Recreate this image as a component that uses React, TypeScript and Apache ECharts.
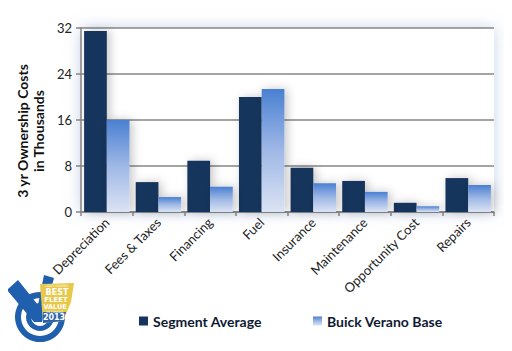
import React, { useEffect, useRef } from "react";
import * as echarts from "echarts";

const categories = ["Depreciation", "Fees & Taxes", "Financing", "Fuel", "Insurance", "Maintenance", "Opportunity Cost", "Repairs"];
const segmentAverage = [31.5, 5.2, 8.9, 20.0, 7.7, 5.4, 1.6, 5.9];
const buickVerano = [16.0, 2.6, 4.4, 21.4, 5.0, 3.5, 1.0, 4.7];
const seriesNames = ["Segment Average", "Buick Verano Base"];
const yTicks = { min: 0, max: 32, interval: 8 };

export default function App() {
  const ref = useRef<HTMLDivElement>(null);
  useEffect(() => {
    if (!ref.current) return;
    const chart = echarts.init(ref.current, null, { renderer: "svg" });
    const font = "Lato, 'Open Sans', sans-serif";
    const lightGrad = new echarts.graphic.LinearGradient(0, 0, 0, 1, [
      { offset: 0, color: "#4a80d2" },
      { offset: 0.5, color: "#9fb8e6" },
      { offset: 1, color: "#dbe3f4" },
    ]);
    const logoText = (text: string, x: number, y: number, size: number, bold: boolean) => ({
      type: "text",
      x,
      y,
      style: {
        text,
        fontSize: size,
        fontWeight: bold ? "bold" : "normal",
        fill: "#fff",
        align: "center",
        verticalAlign: "middle",
        fontFamily: "DejaVu Sans",
      },
    });
    chart.setOption({
      animation: false,
      backgroundColor: "#ffffff",
      grid: {
        left: 81,
        right: 18,
        top: 28,
        bottom: 139,
        show: true,
        backgroundColor: "#ffffff",
        borderWidth: 0,
        shadowColor: "rgba(150,175,215,0.55)",
        shadowBlur: 16,
      },
      legend: [
        {
          data: [seriesNames[0]],
          left: 134,
          top: 309,
          itemWidth: 9,
          itemHeight: 9,
          icon: "rect",
          textStyle: { fontFamily: font, fontWeight: "bold", fontSize: 14, color: "#0f1a33" },
        },
        {
          data: [seriesNames[1]],
          left: 308,
          top: 309,
          itemWidth: 9,
          itemHeight: 9,
          icon: "rect",
          textStyle: { fontFamily: font, fontWeight: "bold", fontSize: 14, color: "#0f1a33" },
        },
      ],
      xAxis: {
        type: "category",
        data: categories,
        boundaryGap: true,
        axisLine: { show: true, lineStyle: { color: "#868686", width: 1.5 } },
        axisTick: { show: true, length: 4, lineStyle: { color: "#868686", width: 1.5 } },
        axisLabel: { rotate: 45, interval: 0, margin: 8, fontFamily: font, fontSize: 13, color: "#222" },
        splitLine: { show: false },
      },
      yAxis: {
        type: "value",
        min: yTicks.min,
        max: yTicks.max,
        interval: yTicks.interval,
        axisLine: { show: true, lineStyle: { color: "#868686", width: 1.5 } },
        axisTick: { show: true, length: 5, lineStyle: { color: "#868686", width: 1.5 } },
        axisLabel: { margin: 9, fontFamily: font, fontSize: 13, color: "#222" },
        splitLine: { show: true, lineStyle: { color: "#868686", width: 1.5 } },
      },
      series: [
        {
          name: seriesNames[0],
          type: "bar",
          data: segmentAverage,
          barGap: "0%",
          barCategoryGap: "12%",
          itemStyle: {
            color: "#17345c",
            shadowColor: "rgba(0,0,0,0.22)",
            shadowBlur: 10,
            shadowOffsetX: 3,
          },
        },
        {
          name: seriesNames[1],
          type: "bar",
          data: buickVerano,
          barGap: "0%",
          barCategoryGap: "12%",
          itemStyle: {
            color: lightGrad,
            shadowColor: "rgba(0,0,0,0.22)",
            shadowBlur: 10,
            shadowOffsetX: 3,
          },
        },
      ],
      graphic: [
        {
          type: "text",
          x: 30,
          y: 131,
          rotation: Math.PI / 2,
          style: {
            text: "3 yr Ownership Costs\nin Thousands",
            fontFamily: font,
            fontWeight: "bold",
            fontSize: 14,
            lineHeight: 16,
            fill: "#111",
            align: "center",
            verticalAlign: "middle",
          },
        },
        {
          type: "group",
          children: [
            { type: "ring", shape: { cx: 40, cy: 317, r: 25, r0: 19 }, style: { fill: "#1f5fae" } },
            { type: "ring", shape: { cx: 40, cy: 317, r: 14, r0: 9 }, style: { fill: "#1f5fae" } },
            {
              type: "polygon",
              shape: { points: [[7, 290], [18, 280], [38, 305], [44, 275], [54, 278], [42, 322], [34, 322]] },
              style: { fill: "#1f5fae" },
            },
            {
              type: "polygon",
              shape: { points: [[40, 284], [74, 283], [71, 302], [63, 321], [43, 323]] },
              style: { fill: "#e8c84a" },
            },
            {
              type: "polygon",
              shape: { points: [[43, 312], [66, 312], [63, 321], [43, 323]] },
              style: { fill: "#2d63a8" },
            },
            logoText("LIGHT CENTRIC", 57, 286, 3, false),
            logoText("BEST", 57, 292, 8, true),
            logoText("FLEET", 56, 299.5, 7, true),
            logoText("VALUE", 55, 306.5, 6.5, true),
            logoText("IN CANADA", 55, 311.5, 3, false),
            logoText("2013", 54, 317.5, 8, true),
          ],
        },
      ],
    });
    return () => chart.dispose();
  }, []);
  return <div ref={ref} style={{ width: 512, height: 351, margin: -8 }} />;
}
